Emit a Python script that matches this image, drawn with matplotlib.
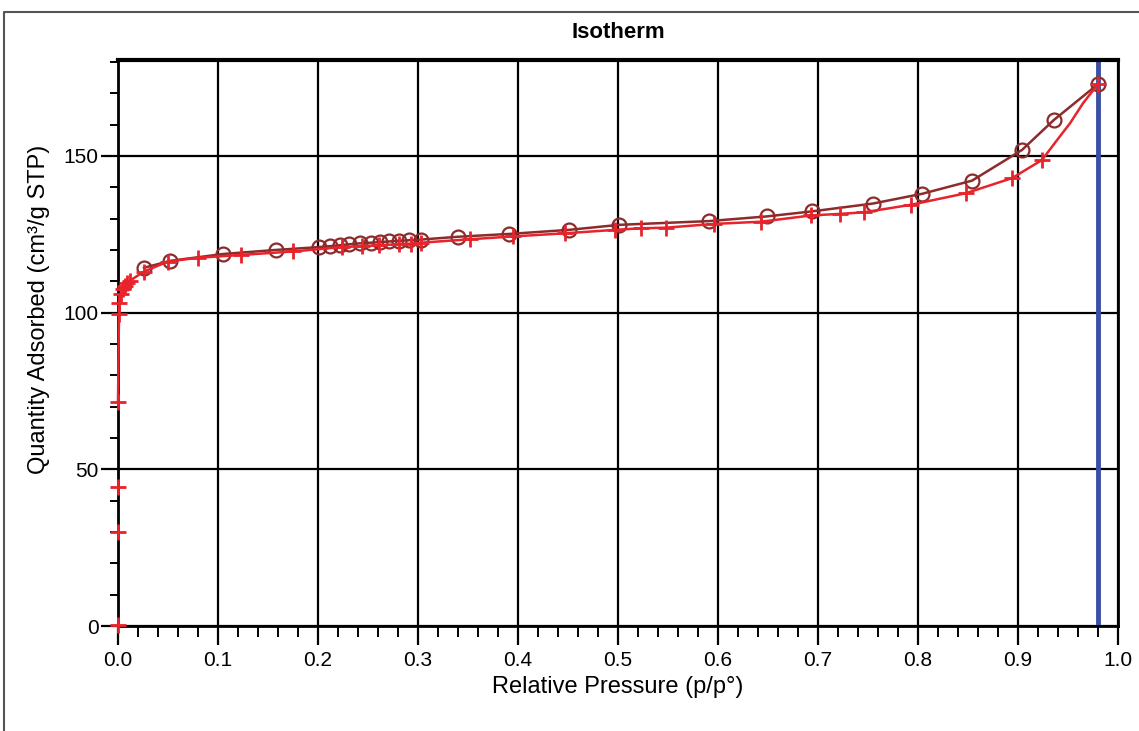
import matplotlib
matplotlib.use("Agg")
import matplotlib.pyplot as plt
from matplotlib.lines import Line2D
from matplotlib.ticker import MultipleLocator

# adsorption branch (red, "+")
ads_p = [0.0, 0.0, 0.0, 0.0, 0.001, 0.001, 0.003, 0.005, 0.007, 0.009, 0.012,
         0.026, 0.050, 0.080, 0.123, 0.175, 0.224, 0.244, 0.261, 0.281, 0.293,
         0.303, 0.352, 0.395, 0.447, 0.497, 0.523, 0.548, 0.596, 0.643, 0.693,
         0.722, 0.746, 0.793, 0.848, 0.894, 0.924, 0.938, 0.952, 0.965, 0.980]
ads_q = [0.3, 30.0, 44.3, 71.4, 99.5, 103.0, 105.8, 107.5, 108.5, 109.3, 110.2,
         113.1, 116.3, 117.5, 118.4, 119.5, 120.9, 121.2, 121.5, 121.8, 122.0,
         122.3, 123.4, 124.3, 125.3, 126.4, 126.9, 127.1, 128.3, 129.0, 131.0,
         131.5, 132.0, 134.4, 138.1, 142.9, 148.7, 154.6, 160.4, 166.8, 172.9]
ads_unmarked = [37, 38, 39]
n_off_curve = 3  # first points sit on the axis, drawn without a connecting line

# desorption branch (dark red, "o")
des_p = [0.980, 0.936, 0.904, 0.854, 0.804, 0.755, 0.694, 0.649, 0.591, 0.501,
         0.451, 0.391, 0.340, 0.303, 0.291, 0.281, 0.271, 0.262, 0.253, 0.242,
         0.231, 0.222, 0.212, 0.201, 0.158, 0.105, 0.052, 0.026]
des_q = [172.9, 161.5, 151.9, 142.1, 137.9, 134.8, 132.3, 130.7, 129.2, 128.0,
         126.4, 125.1, 124.2, 123.3, 123.1, 122.9, 122.7, 122.5, 122.3, 122.1,
         121.8, 121.5, 121.2, 120.9, 120.0, 118.7, 116.5, 114.3]

p_sat_line = 0.98

red = "#e8232b"
dark_red = "#8c2b2b"
blue = "#3b4fa3"
font = ["Liberation Sans", "DejaVu Sans"]

fig = plt.figure(figsize=(11.39, 7.31), dpi=100)
ax = fig.add_axes([118 / 1139, 1 - 626 / 731, 1000 / 1139, 566 / 731])

ax.set_xlim(0, 1.0)
ax.set_ylim(0, 180.6)

ax.grid(True, which="major", color="black", linewidth=1.6)
ax.set_axisbelow(True)

ax.axvline(p_sat_line, color=blue, linewidth=3.5, zorder=2)

ax.plot(des_p, des_q, color=dark_red, linewidth=1.8, marker="o", markersize=10,
        markerfacecolor="none", markeredgewidth=1.6, zorder=3, clip_on=False)

curve_p = ads_p[n_off_curve:]
curve_q = ads_q[n_off_curve:]
marked = [i - n_off_curve for i in range(n_off_curve, len(ads_p)) if i not in ads_unmarked]
ax.plot(curve_p, curve_q, color=red, linewidth=1.8, marker="+", markersize=12,
        markeredgewidth=2.0, markevery=marked, zorder=4, clip_on=False)
ax.plot(ads_p[:n_off_curve], ads_q[:n_off_curve], linestyle="none", color=red,
        marker="+", markersize=12, markeredgewidth=2.0, zorder=4, clip_on=False)

ax.set_xticks([i / 10 for i in range(11)])
ax.set_xticklabels([f"{i / 10:.1f}" for i in range(11)])
ax.xaxis.set_minor_locator(MultipleLocator(0.02))
ax.yaxis.set_major_locator(MultipleLocator(50))
ax.yaxis.set_minor_locator(MultipleLocator(10))

ax.tick_params(axis="x", which="major", direction="out", length=14, width=1.6,
               labelsize=15, pad=4)
ax.tick_params(axis="x", which="minor", direction="out", length=8, width=1.4)
ax.tick_params(axis="y", which="major", direction="out", length=12, width=1.6,
               labelsize=15, pad=2)
ax.tick_params(axis="y", which="minor", direction="out", length=6, width=1.4)

for lab in ax.get_xticklabels() + ax.get_yticklabels():
    lab.set_fontfamily(font)

for side in ["left", "bottom", "right"]:
    ax.spines[side].set_linewidth(2.0)
ax.spines["top"].set_linewidth(3.0)

ax.set_xlabel("Relative Pressure (p/p°)", fontsize=17, family=font, labelpad=4)
ax.set_ylabel("Quantity Adsorbed (cm³/g STP)", fontsize=17, family=font)
ax.yaxis.set_label_coords(-0.068, 0.56)
ax.set_title("Isotherm", fontsize=16, fontweight="bold",
             family=["Liberation Sans Narrow"] + font, pad=16)

# outer frame of the report panel
fx = 4 / 1139
fy = 1 - 12 / 731
fig.add_artist(Line2D([fx, fx, 1.0], [0.0, fy, fy], transform=fig.transFigure,
                      color="#555555", linewidth=1.5))

fig.savefig("out.png", dpi=100)
